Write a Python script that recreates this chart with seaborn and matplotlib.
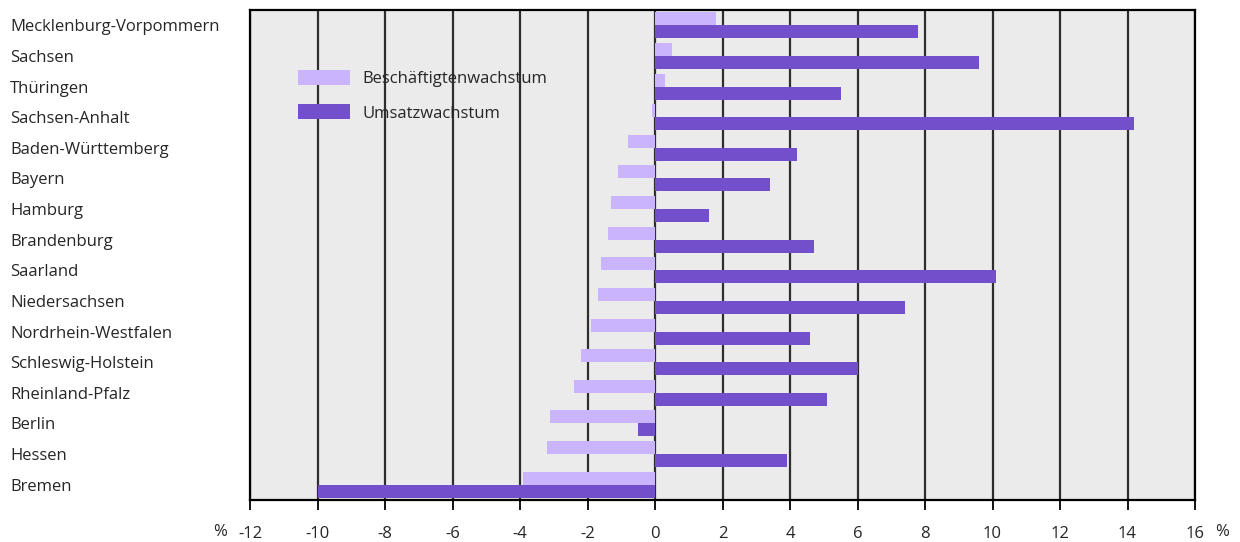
import matplotlib
matplotlib.use('Agg')
import matplotlib.pyplot as plt
import seaborn as sns
import pandas as pd

# --
# Data

laender = ['Mecklenburg-Vorpommern', 'Sachsen', 'Thüringen', 'Sachsen-Anhalt',
           'Baden-Württemberg', 'Bayern', 'Hamburg', 'Brandenburg', 'Saarland',
           'Niedersachsen', 'Nordrhein-Westfalen', 'Schleswig-Holstein',
           'Rheinland-Pfalz', 'Berlin', 'Hessen', 'Bremen']
beschaeftigte = [1.8, 0.5, 0.3, -0.1, -0.8, -1.1, -1.3, -1.4, -1.6, -1.7,
                 -1.9, -2.2, -2.4, -3.1, -3.2, -3.9]
umsatz = [7.8, 9.6, 5.5, 14.2, 4.2, 3.4, 1.6, 4.7, 10.1, 7.4, 4.6, 6.0,
          5.1, -0.5, 3.9, -10.0]
serien = ['Beschäftigtenwachstum', 'Umsatzwachstum']
xticks = list(range(-12, 17, 2))

df = pd.DataFrame({
    'land': laender * 2,
    'wert': beschaeftigte + umsatz,
    'serie': [serien[0]] * len(laender) + [serien[1]] * len(laender),
})

# --
# Style

sns.set_style('white')
plt.rcParams['font.family'] = ['Open Sans', 'DejaVu Sans']
fs = 12

hell, dunkel = '#c9b4fd', '#744fcc'

fig = plt.figure(figsize=(12.4, 5.42), dpi=100)
ax = fig.add_axes([250 / 1240, 1 - 500 / 542, 945 / 1240, 490 / 542])
ax.set_facecolor('#ebebeb')

sns.barplot(data=df, y='land', x='wert', hue='serie', orient='h',
            order=laender, hue_order=serien, palette=[hell, dunkel],
            width=0.85, gap=0, linewidth=0, saturation=1, ax=ax)

# --
# Axes cosmetics

ax.set_xlim(-12, 16)
ax.set_xticks(xticks)
ax.set_xticklabels([str(t) for t in xticks])
ax.set_axisbelow(True)
ax.grid(axis='x', color='#2e2e2e', lw=1.6)
ax.grid(axis='y', visible=False)
ax.set_xlabel('')
ax.set_ylabel('')

for s in ax.spines.values():
    s.set_visible(True)
    s.set_color('black')
    s.set_linewidth(1.6)

ax.tick_params(axis='x', bottom=True, direction='out', length=7, width=1.3,
               color='black', pad=12, labelsize=fs)
ax.tick_params(axis='y', left=False, pad=235 * 72 / 100, labelsize=fs)
for lab in ax.get_yticklabels():
    lab.set_ha('left')

# % signs next to the outer tick labels
ax.text(-12.9, -0.05, '%', transform=ax.get_xaxis_transform(),
        ha='center', va='top', fontsize=fs)
ax.text(16.8, -0.05, '%', transform=ax.get_xaxis_transform(),
        ha='center', va='top', fontsize=fs)

leg = ax.legend(loc='upper left', bbox_to_anchor=(0.051, 0.878), frameon=False,
                borderpad=0, borderaxespad=0,
                handlelength=3.1, handleheight=1.0, labelspacing=1.05,
                handletextpad=0.75, fontsize=fs)

fig.savefig('out.png', dpi=100)
